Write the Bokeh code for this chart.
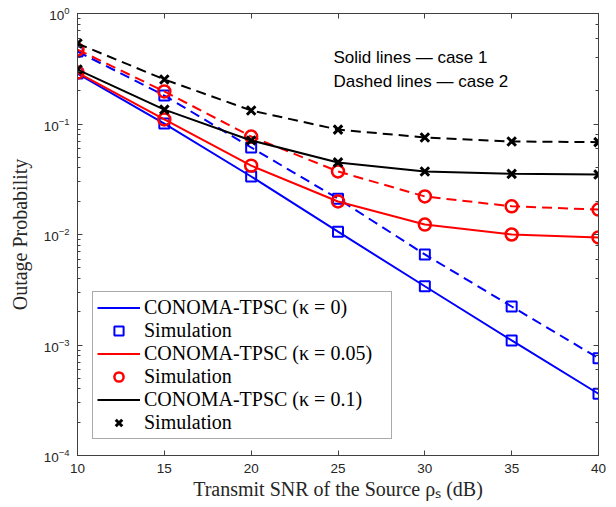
from bokeh.plotting import figure
from bokeh.models import Range1d, LinearAxis, LogAxis, Legend, LegendItem, Label
from bokeh.embed import file_html
from bokeh.resources import INLINE

# ---------------- data ----------------
snr_db = [10, 15, 20, 25, 30, 35, 40]

# kappa = 0 (blue)
k0_case1 = [0.286, 0.101, 0.0335, 0.0106, 0.0034, 0.0011, 0.000362]
k0_case2 = [0.453, 0.181, 0.0613, 0.0211, 0.0066, 0.00223, 0.00076]
# kappa = 0.05 (red)
k05_case1 = [0.292, 0.110, 0.042, 0.0199, 0.0123, 0.0100, 0.0094]
k05_case2 = [0.472, 0.197, 0.077, 0.0372, 0.0221, 0.0180, 0.0168]
# kappa = 0.1 (black)
k1_case1 = [0.311, 0.135, 0.071, 0.0449, 0.0372, 0.0354, 0.0349]
k1_case2 = [0.535, 0.253, 0.1325, 0.089, 0.0755, 0.0695, 0.0685]

# simulation points
sim_k0_case1 = [0.286, 0.101, 0.0335, 0.0106, 0.0034, 0.0011, 0.000362]
sim_k0_case2 = [0.453, 0.181, 0.0613, 0.0211, 0.0066, 0.00223, 0.00076]
sim_k05_case1 = [0.292, 0.110, 0.042, 0.0199, 0.0123, 0.0100, 0.0094]
sim_k05_case2 = [0.472, 0.197, 0.077, 0.0372, 0.0221, 0.0180, 0.0168]
sim_k1_case1 = [0.311, 0.135, 0.071, 0.0449, 0.0372, 0.0354, 0.0349]
sim_k1_case2 = [0.535, 0.253, 0.1325, 0.089, 0.0755, 0.0695, 0.0685]

legend_labels = ["CONOMA-TPSC (κ = 0)", "CONOMA-TPSC (κ = 0.05)", "CONOMA-TPSC (κ = 0.1)"]
sim_label = "Simulation"
x_ticks = [10, 15, 20, 25, 30, 35, 40]
note_lines = ["Solid lines — case 1", "Dashed lines — case 2"]

# ---------------- figure ----------------
AX = "#404040"
TXT = "#262626"
SERIF = "Liberation Serif"
SANS = "Liberation Sans"

p = figure(width=616, height=507, y_axis_type="log",
           x_range=Range1d(10, 40), y_range=Range1d(1e-4, 1),
           output_backend="svg", toolbar_location=None,
           min_border_left=77, min_border_right=18,
           min_border_top=13, min_border_bottom=52)
p.background_fill_color = "white"
p.border_fill_color = "white"
p.outline_line_color = AX
p.outline_line_width = 1
p.xgrid.visible = False
p.ygrid.visible = False

xa = p.xaxis[0]
xa.ticker = x_ticks
xa.axis_label = "Transmit SNR of the Source ρₛ (dB)"
ya = p.yaxis[0]
ya.axis_label = "Outage Probability"
for ax in (xa, ya):
    ax.axis_line_color = AX
    ax.major_tick_line_color = AX
    ax.minor_tick_line_color = AX
    ax.major_tick_in = 5
    ax.major_tick_out = 0
    ax.minor_tick_in = 3
    ax.minor_tick_out = 0
    ax.major_label_text_font = SANS
    ax.major_label_text_font_size = "13.5px"
    ax.major_label_text_color = TXT
    ax.major_label_standoff = 8
    ax.axis_label_text_font = SERIF
    ax.axis_label_text_font_size = "20px"
    ax.axis_label_text_font_style = "normal"
    ax.axis_label_text_color = TXT
xa.minor_tick_line_color = None
xa.axis_label_standoff = 2
ya.axis_label_standoff = 10

top = LinearAxis(ticker=x_ticks)
right = LogAxis()
for ax in (top, right):
    ax.axis_line_color = AX
    ax.major_tick_line_color = AX
    ax.minor_tick_line_color = AX
    ax.major_tick_in = 5
    ax.major_tick_out = 0
    ax.minor_tick_in = 3
    ax.minor_tick_out = 0
    ax.major_label_text_font_size = "2px"
    ax.major_label_text_color = None
    ax.major_label_standoff = 0
top.minor_tick_line_color = None
p.add_layout(top, "above")
p.add_layout(right, "right")

# ---------------- series ----------------
colors = ["#0000FF", "#FF0000", "#000000"]
case1 = [k0_case1, k05_case1, k1_case1]
case2 = [k0_case2, k05_case2, k1_case2]
sim1 = [sim_k0_case1, sim_k05_case1, sim_k1_case1]
sim2 = [sim_k0_case2, sim_k05_case2, sim_k1_case2]
markers = ["square", "circle", "x"]
msizes = [10, 12, 12]
mwidths = [2, 2.5, 3]

items = []
for c, l1, l2, s1, s2, m, ms, mw, lab in zip(colors, case1, case2, sim1, sim2,
                                              markers, msizes, mwidths, legend_labels):
    r_line = p.line(snr_db, l1, line_color=c, line_width=2)
    p.line(snr_db, l2, line_color=c, line_width=2, line_dash="10 6")
    r_sim = p.scatter(snr_db, s1, marker=m, size=ms, line_color=c, line_width=mw,
                      fill_color=None)
    p.scatter(snr_db, s2, marker=m, size=ms, line_color=c, line_width=mw,
              fill_color=None)
    items.append(LegendItem(label=lab, renderers=[r_line]))
    items.append(LegendItem(label=sim_label, renderers=[r_sim]))

legend = Legend(items=items, location=(15, 16), orientation="vertical",
                padding=4, spacing=0, margin=0,
                glyph_width=43, glyph_height=23, label_height=23,
                label_width=243, label_standoff=4,
                label_text_font=SERIF, label_text_font_size="20px",
                label_text_color="#000000",
                border_line_color="#555555", border_line_width=1,
                background_fill_color="white", background_fill_alpha=1.0)
p.add_layout(legend, "center")

# ---------------- notes ----------------
note_y = [0.40, 0.24]
for t, yv in zip(note_lines, note_y):
    p.add_layout(Label(x=24.74, y=yv, text=t, text_font=SANS,
                       text_font_size="17px", text_color="#000000",
                       text_baseline="middle", text_align="left"))

open("out.html", "w").write(file_html(p, INLINE))
